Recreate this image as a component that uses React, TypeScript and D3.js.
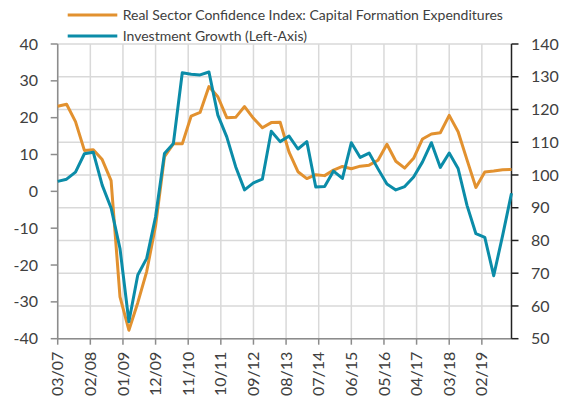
import React from "react";
import * as d3 from "d3";

const periods = [
  "03/07", "06/07", "09/07", "12/07", "03/08", "06/08", "09/08", "12/08",
  "03/09", "06/09", "09/09", "12/09", "03/10", "06/10", "09/10", "12/10",
  "03/11", "06/11", "09/11", "12/11", "03/12", "06/12", "09/12", "12/12",
  "03/13", "06/13", "09/13", "12/13", "03/14", "06/14", "09/14", "12/14",
  "03/15", "06/15", "09/15", "12/15", "03/16", "06/16", "09/16", "12/16",
  "03/17", "06/17", "09/17", "12/17", "03/18", "06/18", "09/18", "12/18",
  "03/19", "06/19", "09/19", "12/19",
];

// Right axis
const confidenceIndex = [
  121.0, 121.6, 116.3, 107.5, 107.7, 104.7, 98.3, 62.8,
  52.6, 61.0, 70.5, 84.5, 105.6, 109.5, 109.5, 118.0,
  119.1, 127.0, 123.9, 117.5, 117.6, 120.9, 117.3, 114.4,
  116.0, 116.1, 107.0, 101.0, 98.9, 100.1, 99.8, 101.5,
  102.6, 101.9, 102.7, 103.0, 104.5, 109.4, 104.2, 102.1,
  105.1, 111.0, 112.5, 112.9, 118.2, 113.2, 104.6, 96.2,
  100.9, 101.2, 101.6, 101.7,
];

// Left axis
const investmentGrowth = [
  2.7, 3.3, 5.2, 10.2, 10.6, 1.7, -4.5, -15.5,
  -35.4, -22.7, -18.2, -6.9, 10.3, 13.0, 32.2, 31.8,
  31.6, 32.4, 20.7, 14.8, 6.7, 0.4, 2.3, 3.3,
  16.3, 13.5, 15.0, 11.5, 13.5, 1.2, 1.3, 5.5,
  3.5, 13.2, 9.2, 10.4, 6.1, 2.0, 0.4, 1.3,
  3.9, 8.0, 13.2, 6.5, 10.4, 6.2, -3.8, -11.5,
  -12.5, -22.9, -12.0, -0.5,
];

const xTickLabels = [
  "03/07", "02/08", "01/09", "12/09", "11/10", "10/11", "09/12",
  "08/13", "07/14", "06/15", "05/16", "04/17", "03/18", "02/19",
];
const leftTicks = [-40, -30, -20, -10, 0, 10, 20, 30, 40];
const rightTicks = [50, 60, 70, 80, 90, 100, 110, 120, 130, 140];

const seriesNames = [
  "Real Sector Confidence Index: Capital Formation Expenditures",
  "Investment Growth (Left-Axis)",
];

const ORANGE = "#E2912F";
const BLUE = "#0B8CA8";
const GRID = "#D9D9D9";
const TEXT = "#404040";
const FONT = "Lato, 'Open Sans', sans-serif";

function monthIndex(s: string): number {
  const [m, y] = s.split("/").map(Number);
  return (2000 + y) * 12 + (m - 1);
}

export default function App() {
  const W = 572;
  const H = 403;
  const left = 57.7;
  const right = 511.5;
  const top = 44;
  const bottom = 338.7;

  const m0 = monthIndex(periods[0]);
  const m1 = monthIndex(periods[periods.length - 1]);
  const x = d3.scaleLinear().domain([m0, m1]).range([left, right]);
  const yL = d3.scaleLinear().domain([-40, 40]).range([bottom, top]);
  const yR = d3.scaleLinear().domain([50, 140]).range([bottom, top]);

  const lineR = d3
    .line<number>()
    .x((_, i) => x(monthIndex(periods[i])))
    .y((d) => yR(d));
  const lineL = d3
    .line<number>()
    .x((_, i) => x(monthIndex(periods[i])))
    .y((d) => yL(d));

  const xTicks = xTickLabels.map((l) => ({ label: l, x: x(monthIndex(l)) }));

  return (
    <svg
      width={W}
      height={H}
      style={{ position: "absolute", left: 0, top: 0, background: "#fff" }}
      fontFamily={FONT}
    >
      {/* horizontal gridlines (right axis) */}
      {rightTicks.map((t) => (
        <line key={"hg" + t} x1={left} x2={right} y1={yR(t)} y2={yR(t)} stroke={GRID} strokeWidth={1.5} />
      ))}
      {/* vertical gridlines */}
      {xTicks.map((t) => (
        <line key={"vg" + t.label} x1={t.x} x2={t.x} y1={top} y2={bottom} stroke={GRID} strokeWidth={1.5} />
      ))}

      {/* left axis */}
      <line x1={left} x2={left} y1={top} y2={bottom} stroke="#8C8C8C" strokeWidth={1.5} />
      {leftTicks.map((t) => (
        <g key={"lt" + t}>
          <line x1={left - 7} x2={left} y1={yL(t)} y2={yL(t)} stroke="#8C8C8C" strokeWidth={1.5} />
          <text x={38} y={yL(t)} dy="0.35em" textAnchor="end" fontSize={16} fill={TEXT}>
            {t}
          </text>
        </g>
      ))}

      {/* x axis */}
      <line x1={left} x2={right} y1={bottom} y2={bottom} stroke="#8C8C8C" strokeWidth={1.5} />
      {xTicks.map((t) => (
        <g key={"xt" + t.label}>
          <line x1={t.x} x2={t.x} y1={bottom} y2={bottom + 6} stroke="#8C8C8C" strokeWidth={1.5} />
          <text
            transform={`translate(${t.x},${bottom + 13}) rotate(-90)`}
            dy="0.35em"
            textAnchor="end"
            fontSize={16}
            fill={TEXT}
          >
            {t.label}
          </text>
        </g>
      ))}

      {/* right axis */}
      <line x1={right} x2={right} y1={top} y2={bottom} stroke="#222" strokeWidth={1.5} />
      {rightTicks.map((t) => (
        <g key={"rt" + t}>
          <line x1={right} x2={right + 7} y1={yR(t)} y2={yR(t)} stroke="#222" strokeWidth={1.5} />
          <text x={531} y={yR(t)} dy="0.35em" textAnchor="start" fontSize={16} fill={TEXT}>
            {t}
          </text>
        </g>
      ))}

      {/* series */}
      <path d={lineR(confidenceIndex) || ""} fill="none" stroke={ORANGE} strokeWidth={3} strokeLinejoin="round" />
      <path d={lineL(investmentGrowth) || ""} fill="none" stroke={BLUE} strokeWidth={3} strokeLinejoin="round" />

      {/* legend */}
      <line x1={67.7} x2={117.3} y1={15} y2={15} stroke={ORANGE} strokeWidth={3} />
      <text x={122.7} y={15} dy="0.35em" fontSize={14} fill={TEXT}>
        {seriesNames[0]}
      </text>
      <line x1={67.7} x2={117.3} y1={36} y2={36} stroke={BLUE} strokeWidth={3} />
      <text x={122.7} y={36} dy="0.35em" fontSize={14} fill={TEXT}>
        {seriesNames[1]}
      </text>
    </svg>
  );
}
